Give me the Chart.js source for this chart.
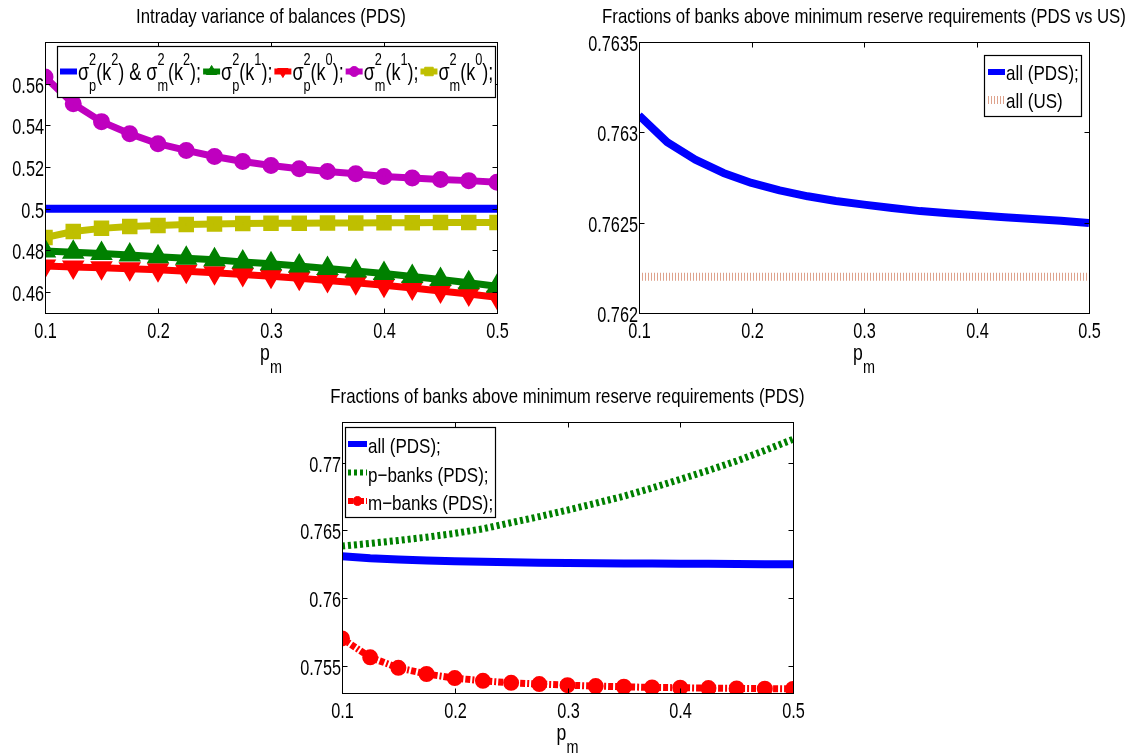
<!DOCTYPE html>
<html>
<head>
<meta charset="utf-8">
<script src="https://cdn.jsdelivr.net/npm/chart.js@4.4.1/dist/chart.umd.min.js"></script>
<style>
  body { margin: 0; background: #fff; width: 1138px; height: 755px; position: relative; overflow: hidden; }
  canvas { position: absolute; }
  #varChart { left: 0; top: 0; }
  #usChart { left: 560px; top: 0; }
  #pdsChart { left: 260px; top: 380px; }
</style>
</head>
<body>
<canvas id="varChart" width="520" height="380"></canvas>
<canvas id="usChart" width="578" height="380"></canvas>
<canvas id="pdsChart" width="600" height="375"></canvas>
<script>
// no narrow font installed, so text is squeezed horizontally to get the matlab look
var FONT = '"Liberation Sans", Arial, sans-serif';
var TICK = { size: 22, sx: 0.74 };
var TITLE = { size: 21, sx: 0.8 };
var XLABEL = { size: 22, small: 18, supOff: 0, subOff: 13, sx: 0.8 };

// p_m values shared by all three plots
var pm = [0.1, 0.125, 0.15, 0.175, 0.2, 0.225, 0.25, 0.275, 0.3, 0.325, 0.35, 0.375, 0.4, 0.425, 0.45, 0.475, 0.5];
var xTicks = [0.1, 0.2, 0.3, 0.4, 0.5];

// intraday variance of balances
var varTicks = [0.46, 0.48, 0.5, 0.52, 0.54, 0.56];
var sigK2 = [0.5, 0.5, 0.5, 0.5, 0.5, 0.5, 0.5, 0.5, 0.5, 0.5, 0.5, 0.5, 0.5, 0.5, 0.5, 0.5, 0.5];
var sigPK1 = [0.4797, 0.4791, 0.4785, 0.4778, 0.4770, 0.4763, 0.4755, 0.4745, 0.4736, 0.4726, 0.4714, 0.4702, 0.4689, 0.4675, 0.4661, 0.4645, 0.4628];
var sigPK0 = [0.4725, 0.4721, 0.4717, 0.4712, 0.4707, 0.4700, 0.4693, 0.4685, 0.4676, 0.4667, 0.4656, 0.4645, 0.4633, 0.4620, 0.4606, 0.4591, 0.4575];
var sigMK1 = [0.5632, 0.5504, 0.5418, 0.5360, 0.5312, 0.5280, 0.5251, 0.5227, 0.5208, 0.5192, 0.5179, 0.5168, 0.5155, 0.5148, 0.5140, 0.5135, 0.5127];
var sigMK0 = [0.4862, 0.4891, 0.4906, 0.4915, 0.4920, 0.4924, 0.4927, 0.4929, 0.4930, 0.4931, 0.4932, 0.4932, 0.4933, 0.4933, 0.4934, 0.4934, 0.4934];

// fractions above minimum reserve requirements
var usTicks = [0.762, 0.7625, 0.763, 0.7635];
var allPDS = [0.763094, 0.762946, 0.762849, 0.762775, 0.76272, 0.762679, 0.762646, 0.76262, 0.7626, 0.762581, 0.762564, 0.762552, 0.762541, 0.76253, 0.76252, 0.762511, 0.762498];
var allUS = [0.7622, 0.7622, 0.7622, 0.7622, 0.7622, 0.7622, 0.7622, 0.7622, 0.7622, 0.7622, 0.7622, 0.7622, 0.7622, 0.7622, 0.7622, 0.7622, 0.7622];

var pdsTicks = [0.755, 0.76, 0.765, 0.77];
var pBanks = [0.76384, 0.76404, 0.76426, 0.76450, 0.76478, 0.76512, 0.76557, 0.76602, 0.7665, 0.76700, 0.76753, 0.76813, 0.76877, 0.76943, 0.77012, 0.77090, 0.77172];
var mBanks = [0.75703, 0.75563, 0.75486, 0.7544, 0.7541, 0.7539, 0.75375, 0.75366, 0.75358, 0.75351, 0.75346, 0.75341, 0.75339, 0.75336, 0.75334, 0.75332, 0.7533];

function pts(arr) {
  return pm.map(function (x, i) { return { x: x, y: arr[i] }; });
}

function fmt(v) {
  return String(parseFloat(Number(v).toFixed(4)));
}

function squeezedText(ctx, str, x, y, align, st) {
  ctx.save();
  ctx.translate(x, y);
  ctx.scale(st.sx, 1);
  ctx.font = st.size + 'px ' + FONT;
  ctx.textAlign = align;
  ctx.textBaseline = 'alphabetic';
  ctx.fillText(str, 0, 0);
  ctx.restore();
}

// splits "σ^2_p(k^2)" into plain / super+subscript pieces
function richParts(str) {
  var parts = [], buf = '', i = 0;
  while (i < str.length) {
    var c = str[i];
    if (c === '^' || c === '_') {
      if (buf) { parts.push({ t: buf }); buf = ''; }
      var p = { sup: '', sub: '' };
      while (str[i] === '^' || str[i] === '_') {
        if (str[i] === '^') p.sup = str[i + 1]; else p.sub = str[i + 1];
        i += 2;
      }
      parts.push(p);
    } else {
      buf += c;
      i++;
    }
  }
  if (buf) parts.push({ t: buf });
  return parts;
}

// draws left aligned from x, returns the x where it ends
function drawRich(ctx, str, x, y, o, measureOnly) {
  var lx = 0;
  ctx.save();
  ctx.translate(x, y);
  ctx.scale(o.sx, 1);
  ctx.textAlign = 'left';
  ctx.textBaseline = 'alphabetic';
  richParts(str).forEach(function (p) {
    if (p.t !== undefined) {
      ctx.font = o.size + 'px ' + FONT;
      if (!measureOnly) ctx.fillText(p.t, lx, 0);
      lx += ctx.measureText(p.t).width;
    } else {
      ctx.font = o.small + 'px ' + FONT;
      var w = 0;
      if (p.sup) {
        if (!measureOnly) ctx.fillText(p.sup, lx, -o.supOff);
        w = Math.max(w, ctx.measureText(p.sup).width);
      }
      if (p.sub) {
        if (!measureOnly) ctx.fillText(p.sub, lx, o.subOff);
        w = Math.max(w, ctx.measureText(p.sub).width);
      }
      lx += w;
    }
  });
  ctx.restore();
  return x + lx * o.sx;
}

function drawSample(ctx, ds, sx, sy, len) {
  ctx.save();
  ctx.strokeStyle = ds.borderColor;
  ctx.lineWidth = ds.legendWidth || ds.borderWidth;
  ctx.setLineDash(ds.borderDash || []);
  ctx.beginPath();
  ctx.moveTo(sx, sy);
  ctx.lineTo(sx + len, sy);
  ctx.stroke();
  if (ds.pointRadius > 0) {
    ctx.setLineDash([]);
    ctx.fillStyle = ds.borderColor;
    ctx.lineWidth = 1;
    Chart.helpers.drawPoint(ctx, {
      pointStyle: ds.pointStyle, rotation: ds.pointRotation || 0,
      radius: ds.pointRadius, borderWidth: 1
    }, sx + len / 2, sy);
  }
  ctx.restore();
}

// matlab look: box, inward ticks, tick labels, title, xlabel, boxed legend
var matlabPlugin = {
  id: 'matlab',
  afterDatasetsDraw: function (chart, args, opts) {
    var ctx = chart.ctx, a = chart.chartArea;
    var sx = chart.scales.x, sy = chart.scales.y;
    ctx.save();
    ctx.strokeStyle = '#000';
    ctx.fillStyle = '#000';
    ctx.lineWidth = 1;
    var L = Math.round(a.left) + 0.5, T = Math.round(a.top) + 0.5;
    var R = Math.round(a.right) + 0.5, B = Math.round(a.bottom) + 0.5;
    ctx.strokeRect(L, T, R - L, B - T);
    ctx.beginPath();
    sx.ticks.forEach(function (t) {
      var px = Math.round(sx.getPixelForValue(t.value)) + 0.5;
      ctx.moveTo(px, B); ctx.lineTo(px, B - 5);
      ctx.moveTo(px, T); ctx.lineTo(px, T + 5);
      squeezedText(ctx, fmt(t.value), px, B + 24.5, 'center', TICK);
    });
    sy.ticks.forEach(function (t) {
      var py = Math.round(sy.getPixelForValue(t.value)) + 0.5;
      ctx.moveTo(L, py); ctx.lineTo(L + 5, py);
      ctx.moveTo(R, py); ctx.lineTo(R - 5, py);
      squeezedText(ctx, fmt(t.value), L - 1.5, py + 8, 'right', TICK);
    });
    ctx.stroke();

    var cx = (a.left + a.right) / 2;
    squeezedText(ctx, opts.title, cx, 22.5, 'center', TITLE);
    var xw = drawRich(ctx, opts.xlabel, 0, 0, XLABEL, true);
    drawRich(ctx, opts.xlabel, cx - xw / 2, 360, XLABEL);

    var lg = opts.legend;
    ctx.fillStyle = '#fff';
    ctx.fillRect(lg.box[0], lg.box[1], lg.box[2], lg.box[3]);
    ctx.lineWidth = 1.2;
    ctx.strokeStyle = '#000';
    ctx.strokeRect(lg.box[0] + 0.5, lg.box[1] + 0.5, lg.box[2], lg.box[3]);
    var x = lg.x, base = lg.base;
    chart.data.datasets.forEach(function (ds) {
      if (lg.row) {
        drawSample(ctx, ds, x, base - lg.lift, lg.len);
        ctx.fillStyle = '#000';
        x = drawRich(ctx, ds.label, x + lg.len + 1, base, lg.text) + lg.gap;
      } else {
        drawSample(ctx, ds, lg.x, base - lg.lift, lg.len);
        ctx.fillStyle = '#000';
        drawRich(ctx, ds.label, lg.x + lg.len + 1, base, lg.text);
        base += lg.step;
      }
    });
    ctx.restore();
  }
};

function xAxis(h) {
  return {
    type: 'linear', min: 0.1, max: 0.5,
    afterBuildTicks: function (s) { s.ticks = xTicks.map(function (v) { return { value: v }; }); },
    afterFit: function (s) { s.height = h; },
    grid: { display: false, drawTicks: false },
    border: { display: false },
    ticks: { display: false }
  };
}

function yAxis(min, max, tickVals, w) {
  return {
    type: 'linear', min: min, max: max,
    afterBuildTicks: function (s) { s.ticks = tickVals.map(function (v) { return { value: v }; }); },
    afterFit: function (s) { s.width = w; },
    grid: { display: false, drawTicks: false },
    border: { display: false },
    ticks: { display: false }
  };
}

function baseOptions(pad, xh, ymin, ymax, yt, yw, matlab) {
  return {
    responsive: false, animation: false, events: [], devicePixelRatio: 1,
    layout: { padding: pad },
    plugins: { legend: { display: false }, title: { display: false }, tooltip: { enabled: false }, matlab: matlab },
    scales: { x: xAxis(xh), y: yAxis(ymin, ymax, yt, yw) }
  };
}

new Chart(document.getElementById('varChart'), {
  type: 'line',
  data: {
    datasets: [
      { label: 'σ^2_p(k^2) & σ^2_m(k^2);', data: pts(sigK2), borderColor: '#0000ff', borderWidth: 8, legendWidth: 6, pointRadius: 0 },
      { label: 'σ^2_p(k^1);', data: pts(sigPK1), borderColor: '#008000', backgroundColor: '#008000', borderWidth: 7, legendWidth: 6,
        pointStyle: 'triangle', pointRadius: 6, pointBackgroundColor: '#008000' },
      { label: 'σ^2_p(k^0);', data: pts(sigPK0), borderColor: '#ff0000', backgroundColor: '#ff0000', borderWidth: 7, legendWidth: 6,
        pointStyle: 'triangle', pointRotation: 180, pointRadius: 6, pointBackgroundColor: '#ff0000' },
      { label: 'σ^2_m(k^1);', data: pts(sigMK1), borderColor: '#bf00bf', backgroundColor: '#bf00bf', borderWidth: 7, legendWidth: 6,
        pointStyle: 'circle', pointRadius: 5, pointBackgroundColor: '#bf00bf' },
      { label: 'σ^2_m(k^0);', data: pts(sigMK0), borderColor: '#bfbf00', backgroundColor: '#bfbf00', borderWidth: 7, legendWidth: 6,
        pointStyle: 'rect', pointRadius: 6, pointBackgroundColor: '#bfbf00' }
    ]
  },
  options: baseOptions({ left: 0, right: 23, top: 42, bottom: 0 }, 67, 0.45, 0.58, varTicks, 45, {
    title: 'Intraday variance of balances (PDS)',
    xlabel: 'p_m',
    legend: { box: [57, 46, 438, 51], row: true, x: 60, base: 80, lift: 8.5, len: 17, gap: 2,
              text: { size: 24, small: 17, supOff: 15, subOff: 11, sx: 0.75 } }
  }),
  plugins: [matlabPlugin]
});

new Chart(document.getElementById('usChart'), {
  type: 'line',
  data: {
    datasets: [
      { label: 'all (PDS);', data: pts(allPDS), borderColor: '#0000ff', borderWidth: 8, legendWidth: 6, pointRadius: 0, borderJoinStyle: 'round' },
      { label: 'all (US)', data: pts(allUS), borderColor: 'rgb(222,162,140)', borderWidth: 8, legendWidth: 8, borderDash: [1, 2], pointRadius: 0 }
    ]
  },
  options: baseOptions({ left: 0, right: 49, top: 42, bottom: 0 }, 67, 0.762, 0.7635, usTicks, 79, {
    title: 'Fractions of banks above minimum reserve requirements (PDS vs US)',
    xlabel: 'p_m',
    legend: { box: [424, 55, 97, 61], row: false, x: 428, base: 80, step: 28, lift: 8, len: 17,
              text: { size: 21, small: 15, supOff: 10, subOff: 8, sx: 0.81 } }
  }),
  plugins: [matlabPlugin]
});

new Chart(document.getElementById('pdsChart'), {
  type: 'line',
  data: {
    datasets: [
      { label: 'all (PDS);', data: pts(allPDS), borderColor: '#0000ff', borderWidth: 8, legendWidth: 6, pointRadius: 0, borderJoinStyle: 'round' },
      { label: 'p−banks (PDS);', data: pts(pBanks), borderColor: '#008000', borderWidth: 7, legendWidth: 6, borderDash: [3, 3], pointRadius: 0 },
      { label: 'm−banks (PDS);', data: pts(mBanks), borderColor: '#ff0000', borderWidth: 7, legendWidth: 6, borderDash: [5, 2, 2, 2],
        pointStyle: 'circle', pointRadius: 4.5, pointBackgroundColor: '#ff0000' }
    ]
  },
  options: baseOptions({ left: 0, right: 67, top: 42, bottom: 0 }, 62, 0.753, 0.773, pdsTicks, 82, {
    title: 'Fractions of banks above minimum reserve requirements (PDS)',
    xlabel: 'p_m',
    legend: { box: [85, 47, 150, 90], row: false, x: 88, base: 73, step: 28.5, lift: 9, len: 19,
              text: { size: 21, small: 15, supOff: 10, subOff: 8, sx: 0.81 } }
  }),
  plugins: [matlabPlugin]
});
</script>
</body>
</html>
